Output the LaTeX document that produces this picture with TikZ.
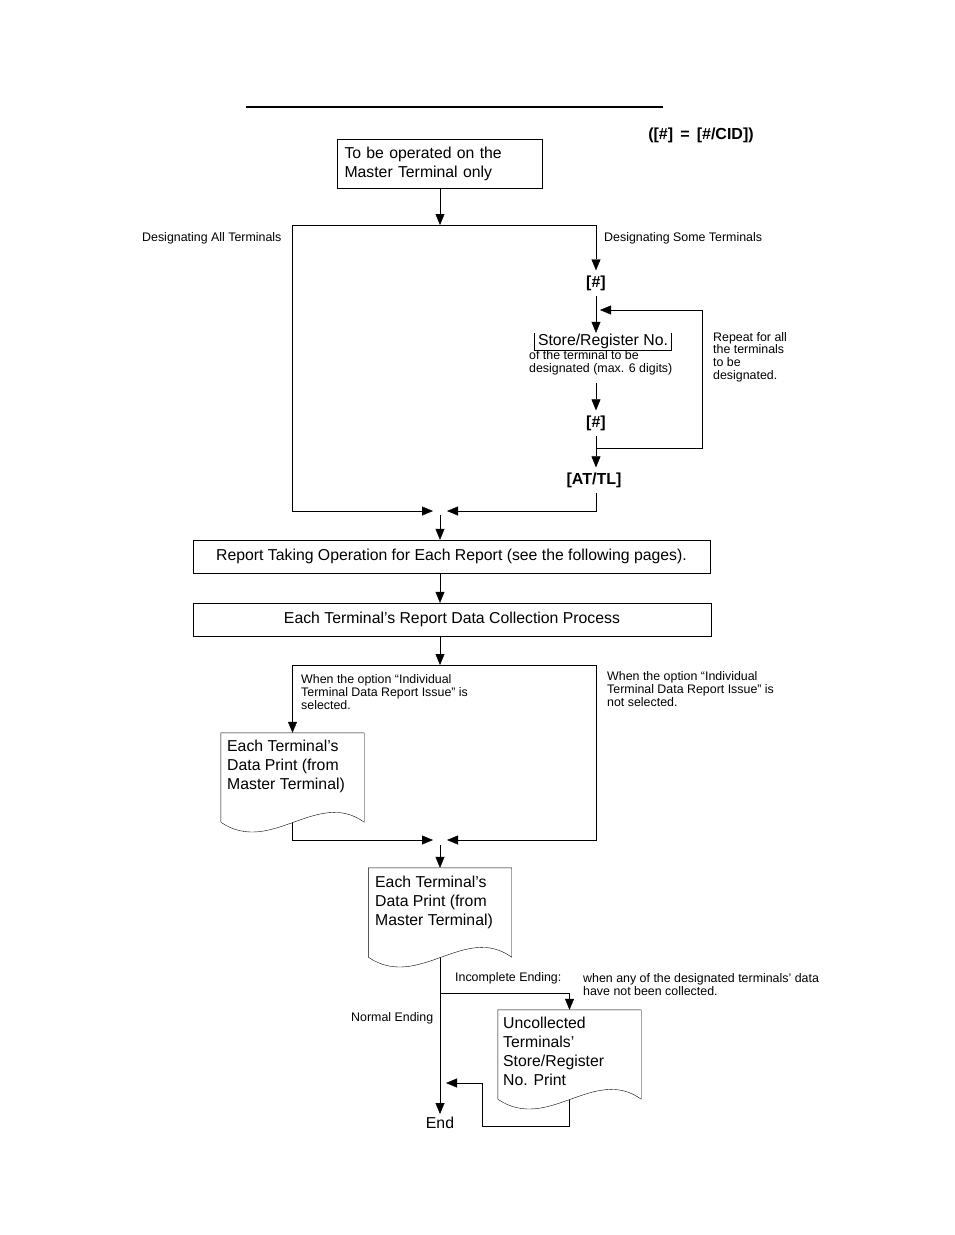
\documentclass[tikz,border=0pt]{standalone}
\usepackage{fontspec}
\setmainfont{Liberation Sans}
\usetikzlibrary{arrows.meta,calc}
\pgfdeclarelayer{bg}
\pgfsetlayers{bg,main}
\newcommand\wavydoc[1]{\draw[fill=white] (#1.south west) -- (#1.north west) -- (#1.north east) -- (#1.south east) .. controls +(-47,-34) and +(50,34) .. (#1.south west) -- cycle;}
\begin{document}
\begin{tikzpicture}[x=1pt,y=-1pt, line width=1.6pt,
  arr/.style={-{Triangle[length=11pt,width=9pt]}},
  norm/.style={font=\fontsize{15.8}{19}\selectfont},
  small/.style={font=\fontsize{12.4}{12.8}\selectfont, inner sep=0pt, align=left, anchor=base west},
  key/.style={font=\fontsize{16}{19}\selectfont\bfseries, inner sep=5pt},
  box/.style={draw, rectangle, norm, inner sep=0pt},
  doc/.style={rectangle, minimum width=143pt, minimum height=89pt, inner sep=0pt},
  doctext/.style={norm, inner sep=0pt, align=left, anchor=base west}]
\begin{pgfonlayer}{bg}
\fill[white] (0,0) rectangle (954,1235);
\end{pgfonlayer}
\useasboundingbox (0,0) rectangle (954,1235);

% title rule
\coordinate (tl1) at (246,107);
\coordinate (tl2) at (663,107);
\draw[line width=1.4pt] (tl1) -- (tl2);

\node[key, inner sep=0pt] (cid) at (701,135) {([\#] \,=\, [\#/CID])};

\node[box, minimum width=205pt, minimum height=49pt, text width=191pt, align=left] (master) at (440,163.5) {To be operated on the\\Master Terminal only};

\node[small] (lall) at (142,241.5) {Designating All Terminals};
\node[small] (lsome) at (604,241.5) {Designating Some Terminals};

\node[key] (hash1) at (596,283) {[\#]};
\node[norm, inner xsep=3pt, inner ysep=0pt, minimum height=17pt] (store) at (603,341.5) {Store/Register No.};
\draw[line width=1.1pt] (store.north west) -- (store.south west) -- (store.south east) -- (store.north east);
\node[small] (sdesc) at (529,372.5) {of the terminal to be\\designated (max. 6 digits)};
\node[small] (rep) at (713,379.5) {Repeat for all\\the terminals\\to be\\designated.};
\node[key] (hash2) at (596,423) {[\#]};
\node[key] (atl) at (594,480) {[AT/TL]};

\node[box, minimum width=517pt, minimum height=33pt] (report) at (451.5,556.5) {Report Taking Operation for Each Report (see the following pages).};
\node[box, minimum width=518pt, minimum height=33pt] (collect) at (452,619.5) {Each Terminal's Report Data Collection Process};

\node[small] (osel) at (301,709.5) {When the option “Individual\\Terminal Data Report Issue” is\\selected.};
\node[small] (onot) at (607,706.5) {When the option “Individual\\Terminal Data Report Issue” is\\not selected.};

\node[doc] (d1) at (292.5,777.5) {};
\node[doc] (d2) at (440,912.5) {};
\node[doc] (d3) at (569.5,1054.5) {};
\wavydoc{d1}
\wavydoc{d2}
\wavydoc{d3}
\node[doctext] (d1t) at (227,789.5) {Each Terminal's\\Data Print (from\\Master Terminal)};
\node[doctext] (d2t) at (375,925.5) {Each Terminal's\\Data Print (from\\Master Terminal)};
\node[doctext] (d3t) at (503,1085.5) {Uncollected\\Terminals'\\Store/Register\\No. Print};

\node[small] (inc) at (455,981.5) {Incomplete Ending:};
\node[small] (incw) at (583,995.5) {when any of the designated terminals' data\\have not been collected.};
\node[small] (nend) at (351,1021.5) {Normal Ending};
\node[norm, inner sep=3pt] (endn) at (440,1123) {End};

\begin{pgfonlayer}{bg}
\coordinate (sp) at (440,225);
\coordinate (la) at (292,511);
\coordinate (m1l) at (433,511);
\coordinate (m1r) at (447,511);
\coordinate (m1d) at (440,515);
\coordinate (lt) at (600,310);
\coordinate (lc) at (702,448);
\coordinate (lb) at (597,448);
\coordinate (a3s) at (596,383);
\coordinate (sp2) at (440,665);
\coordinate (rr) at (596,840);
\coordinate (m2l) at (433,840);
\coordinate (m2r) at (447,840);
\coordinate (m2d) at (440,845);
\coordinate (br) at (440,993);
\coordinate (r1) at (482,1126);
\coordinate (r2) at (446,1083);

\draw[arr] (master) -- (sp);
\draw[arr] (sp) -| (hash1);
\draw[arr] (sp) -| (la) -- (m1l);
\draw[arr] (hash1) -- (hash1 |- store.north);
\draw[arr] (lb) -- (lc) |- (lt);
\draw[arr] (a3s) -- (hash2);
\draw[arr] (hash2) -- (hash2 |- atl.north);
\draw[arr] (atl.south -| hash2) |- (m1r);
\draw[arr] (m1d) -- (m1d |- report.north);
\draw[arr] (report.south -| m1d) -- (collect.north -| m1d);
\draw[arr] (collect.south -| sp2) -- (sp2);
\draw[arr] (sp2) -| (d1);
\draw[arr] (sp2) -| (rr) -- (m2r);
\draw[arr] (d1.south) |- (m2l);
\draw[arr] (m2d) -- (m2d |- d2.north);
\draw[arr] (d2.south -| m2d) -- (m2d |- endn.north);
\draw[arr] (br) -| (d3.north);
\draw[arr] (d3.south) |- (r1) |- (r2);
\end{pgfonlayer}
\end{tikzpicture}
\end{document}
